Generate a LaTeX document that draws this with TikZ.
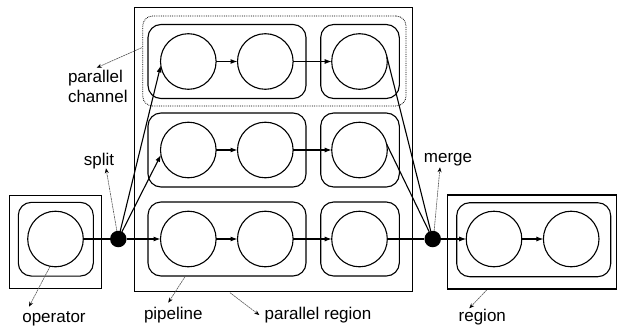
\documentclass[tikz,border=0pt]{standalone}
\usepackage{fontspec}
\setmainfont{Liberation Sans}
\usetikzlibrary{arrows.meta}
\begin{document}
\begin{tikzpicture}[x=1pt,y=-1pt,
  every node/.style={inner sep=0pt, outer sep=0pt},
  op/.style={draw, line width=1.1pt, circle, minimum size=55.6pt},
  pbox/.style={draw, line width=1.1pt, rounded corners=13pt, minimum height=74pt},
  sqbox/.style={draw, line width=1.1pt},
  dot/.style={fill, circle, minimum size=16.5pt},
  flow/.style={line width=1.1pt, -{Latex[length=7pt,width=5pt]}},
  plain/.style={line width=1.1pt},
  note/.style={black!65, line width=0.6pt, densely dashed, dash pattern=on 2pt off 0.6pt, -{Stealth[length=5pt,width=4pt,black]}},
  lbl/.style={font=\fontsize{17}{20}\selectfont}
]
\useasboundingbox (0,0) rectangle (617,329);

% parallel region and channel
\node[sqbox, minimum width=278pt, minimum height=284.4pt] (pr) at (273.3,149.5) {};
\node[draw, line width=0.8pt, densely dotted, rounded corners=10pt, minimum width=263.3pt, minimum height=90pt] (pc) at (274.35,61) {};

% pipelines
\foreach \r/\y in {1/61.5, 2/150, 3/239}{
  \node[pbox, minimum width=158pt] (pa\r) at (227,\y) {};
  \node[pbox, minimum width=78.6pt] (pb\r) at (360,\y) {};
  \node[op] (c\r a) at (188.3,\y) {};
  \node[op] (c\r b) at (265.3,\y) {};
  \node[op] (c\r c) at (359.5,\y) {};
}

% operator
\node[sqbox, minimum width=92pt, minimum height=93.3pt] (opo) at (55.3,241.7) {};
\node[pbox, minimum width=75pt, minimum height=73.7pt] (opi) at (55.8,239.2) {};
\node[op] (opc) at (55.5,239) {};

% split / merge
\node[dot] (split) at (118.3,239) {};
\node[dot] (merge) at (432.7,239) {};

% region
\node[sqbox, minimum width=168.8pt, minimum height=94pt] (rgo) at (532.1,242) {};
\node[pbox, minimum width=154pt, minimum height=74pt] (rgi) at (533.7,239.7) {};
\node[op] (rc1) at (494,239) {};
\node[op] (rc2) at (571.2,239) {};

% flow connectors
\draw[plain] (opc) -- (split);
\draw[flow] (split) -- (c3a);
\draw[flow] (split) -- (c1a.188);
\draw[flow] (split) -- (c2a.190);
\foreach \r in {1,2,3}{
  \draw[flow] (c\r a) -- (c\r b);
  \draw[flow] (c\r b) -- (c\r c);
}
\draw[plain] (c3c) -- (merge);
\draw[plain] (c1c.10) -- (merge);
\draw[plain] (c2c.12) -- (merge);
\draw[flow] (merge) -- (rc1);
\draw[flow] (rc1) -- (rc2);

% labels
\node[lbl, anchor=north west, align=left] (lchan) at (68,70) {parallel\\channel};
\node[lbl, anchor=base] (lsplit) at (99,165) {split};
\node[lbl, anchor=base] (lmerge) at (448,162) {merge};
\node[lbl, anchor=base] (lop) at (54,322) {operator};
\node[lbl, anchor=base] (lpipe) at (173.3,319) {pipeline};
\node[lbl, anchor=base] (lpr) at (318,319) {parallel region};
\node[lbl, anchor=base] (lrg) at (482.3,321) {region};

% annotation arrows
\coordinate (a1s) at (141.7,47.7); \coordinate (a1e) at (96.7,67.7);
\coordinate (a2e) at (106,168.3);
\coordinate (a3e) at (440,167.3);
\coordinate (a4s) at (50,266.5); \coordinate (a4e) at (29,306.7);
\coordinate (a5s) at (185,276.7); \coordinate (a5e) at (168.3,302.7);
\coordinate (a6s) at (230,292.7); \coordinate (a6e) at (259.3,315);
\coordinate (a7s) at (486.7,290); \coordinate (a7e) at (469.3,308.3);
\draw[note] (a1s) -- (a1e);
\draw[note] (split.100) -- (a2e);
\draw[note] (merge.80) -- (a3e);
\draw[note] (a4s) -- (a4e);
\draw[note] (a5s) -- (a5e);
\draw[note] (a6s) -- (a6e);
\draw[note] (a7s) -- (a7e);
\end{tikzpicture}
\end{document}
